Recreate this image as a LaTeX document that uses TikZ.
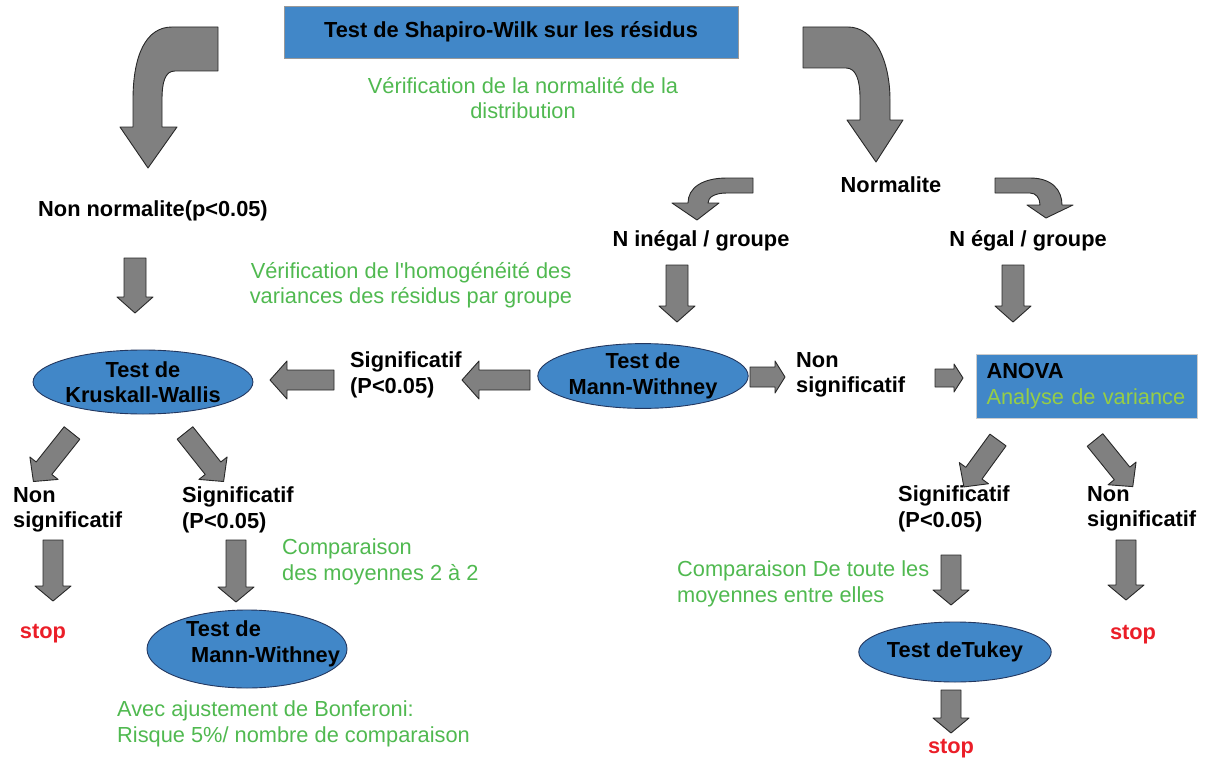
\documentclass[tikz,border=0pt]{standalone}
\usepackage{fontspec}
\setmainfont{Liberation Sans}[Ligatures=TeXOff]
\usetikzlibrary{shapes.geometric}
\definecolor{boxblue}{RGB}{65,135,200}
\definecolor{ellborder}{RGB}{35,55,95}
\definecolor{txtgreen}{RGB}{80,185,80}
\definecolor{limegreen}{RGB}{150,205,70}
\definecolor{arrgray}{RGB}{128,128,128}
\definecolor{arrborder}{RGB}{40,40,40}
\definecolor{stopred}{RGB}{235,30,40}
\newcommand{\fsz}{\fontsize{21.8}{25.5}\selectfont}
\tikzset{
  every node/.style={font=\fsz, inner sep=1pt},
  lbl/.style={font=\fsz\bfseries, align=left},
  grn/.style={text=txtgreen, align=left},
  stoplbl/.style={font=\fsz\bfseries, text=stopred},
  bluebox/.style={draw=gray!80, fill=boxblue, line width=0.8pt},
  ell/.style={ellipse, draw=ellborder, fill=boxblue, line width=0.9pt, inner sep=0pt},
  blockarrow/.style={draw=arrborder, fill=arrgray, line width=0.9pt, line join=round}
}
% x, y, screen angle (deg, y down), length, shaft half-width, head half-width, head length
\newcommand{\barrow}[7]{%
  \begin{scope}[shift={(#1,#2)},rotate=-#3]
    \draw[blockarrow] (0,-#5) -- ({#4-#7},-#5) -- ({#4-#7},-#6) -- (#4,0)
      -- ({#4-#7},#6) -- ({#4-#7},#5) -- (0,#5) -- cycle;
  \end{scope}}
\begin{document}
\begin{tikzpicture}[x=1pt,y=-1pt]
\useasboundingbox (0,0) rectangle (1205,760);

% top box
\node[bluebox, minimum width=454, minimum height=52, font=\fsz\bfseries] (sw) at (511,32) {Test de Shapiro-Wilk sur les résidus};
\node[grn, align=center] (verif1) at (523,98) {Vérification de la normalité de la\\distribution};

% big curved arrows
\draw[blockarrow] (218,27) -- (172,27) .. controls (146,27) and (133,55) .. (133,100)
  -- (133,127) -- (120,127) -- (148,168) -- (177,127) -- (162,127) -- (162,100)
  .. controls (162,82) and (165,71) .. (175,71) -- (218,71) -- cycle;
\draw[blockarrow] (803,27) -- (848,27) .. controls (874,27) and (890,60) .. (890,100)
  -- (890,120) -- (903,120) -- (876,162) -- (847,120) -- (860,120) -- (860,98)
  .. controls (860,80) and (856,68) .. (846,68) -- (803,68) -- cycle;

\node[lbl] (nonnorm) at (153,211) {Non normalite(p<0.05)};
\node[lbl] (norm) at (891,185) {Normalite};

% small curved arrows
\draw[blockarrow] (753,178) -- (727,178) .. controls (702,178) and (688,188) .. (688,203)
  -- (672,203) -- (697,220) -- (719,203) -- (708,203)
  .. controls (708,197) and (715,193) .. (727,193) -- (753,193) -- cycle;
\draw[blockarrow] (995,178) -- (1030,178) .. controls (1052,178) and (1062,190) .. (1062,205)
  -- (1073,205) -- (1046,218) -- (1027,205) -- (1040,205)
  .. controls (1040,198) and (1036,193) .. (1030,193) -- (995,193) -- cycle;

\node[lbl] (ninegal) at (701,241) {N inégal / groupe};
\node[lbl] (negal) at (1028,241) {N égal / groupe};

\barrow{135}{258}{90}{55}{11}{18}{16}
\barrow{677}{265}{90}{57}{11}{18}{16}
\barrow{1013}{265}{90}{57}{11}{18}{16}

\node[grn, align=center] (verif2) at (411,285) {Vérification de l'homogénéité des\\variances des résidus par groupe};

% middle row
\node[ell, minimum width=213, minimum height=64, font=\fsz\bfseries, align=center] (kw) at (143,382) {Test de\\Kruskall-Wallis};
\barrow{334}{380}{180}{64}{10}{19}{17}
\node[lbl, anchor=west] (sig1) at (349,375) {Significatif\\(P<0.05)};
\barrow{530}{380}{180}{68}{10}{19}{17}
\node[ell, minimum width=205, minimum height=60, font=\fsz\bfseries, align=center] (mw1) at (643,376) {Test de\\Mann-Withney};
\barrow{750}{377}{0}{35}{10}{16}{10}
\node[lbl, anchor=west] (nsig1) at (795,375) {Non\\significatif};
\barrow{935}{378}{0}{28}{9}{14}{9}
\node[bluebox, draw=gray!40, minimum width=221, minimum height=64, text width=200, inner xsep=10.5, align=left] (anova) at (1086.5,386) {\textbf{ANOVA}\\\textcolor{limegreen}{Analyse de variance}};

% left bottom
\barrow{72}{433}{128.5}{62}{10}{18}{17}
\barrow{185}{433}{51.5}{62}{10}{18}{17}
\node[lbl, anchor=west] (nsig2) at (12,510) {Non\\significatif};
\node[lbl, anchor=west] (sig2) at (181,510) {Significatif\\(P<0.05)};
\barrow{53}{540}{90}{61}{10}{18}{15}
\barrow{236}{540}{90}{62}{10}{18}{15}
\node[stoplbl] (stop1) at (43,634) {stop};
\node[grn, anchor=west] (comp1) at (281,562) {Comparaison\\des moyennes 2 à 2};
\node[ell, minimum width=200, minimum height=78] (mw2) at (247,649) {};
\node[lbl, anchor=west] (mw2t) at (185,644) {Test de\\\hspace*{5pt}Mann-Withney};
\node[grn, anchor=west] (bonf) at (116,724) {Avec ajustement de Bonferoni:\\Risque 5\%/ nombre de comparaison};

% right bottom
\barrow{998}{440}{126}{58}{10}{18}{17}
\barrow{1095}{440}{51}{60}{10}{18}{17}
\node[lbl, anchor=west] (sig3) at (897,509) {Significatif\\(P<0.05)};
\node[lbl, anchor=west] (nsig3) at (1086,509) {Non\\significatif};
\barrow{951}{555}{90}{50}{10}{18}{15}
\barrow{1126}{540}{90}{60}{10}{18}{15}
\node[grn, anchor=west] (comp2) at (676,584) {Comparaison De toute les\\moyennes entre elles};
\node[ell, minimum width=190, minimum height=60, font=\fsz\bfseries] (tukey) at (955,652) {Test deTukey};
\node[stoplbl] (stop2) at (1133,635) {stop};
\barrow{951}{690}{90}{43}{10}{18}{15}
\node[stoplbl] (stop3) at (951,749) {stop};
\end{tikzpicture}
\end{document}
